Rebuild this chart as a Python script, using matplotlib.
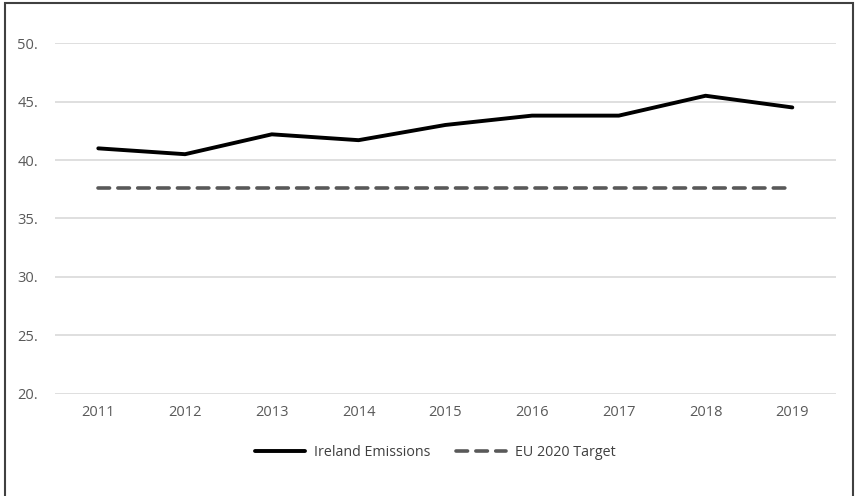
import matplotlib
matplotlib.use("Agg")
import matplotlib.pyplot as plt
from matplotlib.patches import Rectangle

# Дані з графіка
years = ["2011", "2012", "2013", "2014", "2015", "2016", "2017", "2018", "2019"]
ireland = [41.0, 40.5, 42.2, 41.7, 43.0, 43.8, 43.8, 45.5, 44.5]
eu_target = [37.6] * len(years)
y_ticks = [20, 25, 30, 35, 40, 45, 50]
y_labels = ["20.", "25.", "30.", "35.", "40.", "45.", "50."]

plt.rcParams["font.family"] = ["Open Sans", "DejaVu Sans"]

fig = plt.figure(figsize=(8.58, 4.96), dpi=100)
ax = fig.add_axes([0.064, 0.206, 0.91, 0.707])

x = range(len(years))
ax.plot(x, ireland, color="black", linewidth=2.8, label="Ireland Emissions",
        solid_capstyle="round", solid_joinstyle="round")
ax.plot(x, eu_target, color="#595959", linewidth=2.6, linestyle=(0, (3.2, 2.3)),
        label="EU 2020 Target", dash_capstyle="round")

ax.set_xlim(-0.5, len(years) - 0.5)
ax.set_ylim(20, 50)
ax.set_xticks(list(x))
ax.set_xticklabels(years)
ax.set_yticks(y_ticks)
ax.set_yticklabels(y_labels)
ax.tick_params(length=0, colors="#595959", labelsize=10.5)
ax.tick_params(axis="x", pad=8)
ax.tick_params(axis="y", pad=12)
ax.grid(axis="y", color="#d9d9d9", linewidth=1.2)
ax.set_axisbelow(True)
for s in ax.spines.values():
    s.set_visible(False)

leg = ax.legend(loc="upper center", bbox_to_anchor=(0.487, -0.11), ncol=2, frameon=False,
                fontsize=10.3, handlelength=3.5, columnspacing=1.8, handletextpad=0.6)
for t in leg.get_texts():
    t.set_color("#404040")

# Рамка навколо малюнка
fig.add_artist(Rectangle((0.006, -0.01), 0.988, 1.004, transform=fig.transFigure,
                         fill=False, edgecolor="#404040", linewidth=1.5))

fig.savefig("out.png", dpi=100)
